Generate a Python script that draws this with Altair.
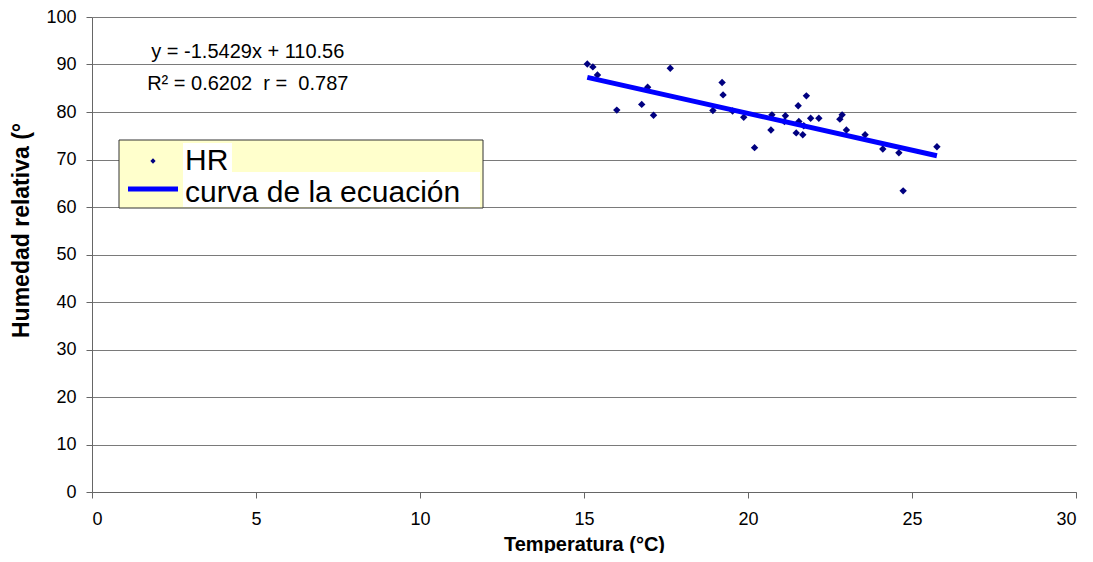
import altair as alt
import pandas as pd

# Data
temp = [15.10, 15.27, 15.41, 17.63, 16.00, 16.76, 17.12, 16.94, 19.21, 19.24,
        18.93, 19.53, 19.87, 20.20, 20.70, 20.73, 21.14, 21.11, 21.53, 21.78,
        21.55, 21.47, 21.67, 21.70, 21.91, 22.16, 22.87, 22.80, 23.00, 23.57,
        24.11, 24.60, 24.73, 25.76]
hr = [90.1, 89.5, 87.8, 89.2, 80.4, 81.6, 79.3, 85.2, 86.2, 83.6,
      80.3, 80.2, 78.9, 72.5, 76.2, 79.4, 79.2, 78.0, 81.3, 83.4,
      78.0, 75.6, 75.2, 77.1, 78.7, 78.7, 79.4, 78.5, 76.2, 75.2,
      72.2, 71.4, 63.4, 72.7]

line_x = [15.10, 25.76]
line_y = [87.3, 70.8]

eq_text = ["y = -1.5429x + 110.56", "R\u00b2 = 0.6202\u00a0\u00a0r =\u00a0\u00a00.787"]
eq_x = [4.75, 4.75]
eq_y = [92.7, 85.9]

legend_labels = ["HR", "curva de la ecuación"]

x_ticks = [0, 5, 10, 15, 20, 25, 30]
y_ticks = [0, 10, 20, 30, 40, 50, 60, 70, 80, 90, 100]

FONT = "Liberation Sans"

pts = pd.DataFrame({"t": temp, "h": hr})
ln = pd.DataFrame({"t": line_x, "h": line_y})
eq = pd.DataFrame({"t": eq_x, "h": eq_y, "txt": eq_text})
one = pd.DataFrame({"a": [0]})

xs = alt.Scale(domain=[0, 30], nice=False, zero=False)
ys = alt.Scale(domain=[0, 100], nice=False, zero=False)

xax = alt.Axis(values=x_ticks, grid=False, title="Temperatura (°C)",
               labelFontSize=18, titleFontSize=20, titleFontWeight="bold",
               labelFont=FONT, titleFont=FONT, labelColor="#000", titleColor="#000",
               domainColor="#666", tickColor="#666", tickSize=6, labelPadding=12,
               titleX=492, titleY=52, titleBaseline="middle", titleAnchor="middle")
yax = alt.Axis(values=y_ticks, grid=True, gridColor="#7a7a7a", title="Humedad relativa (°",
               labelFontSize=18, titleFontSize=23, titleFontWeight="bold",
               labelFont=FONT, titleFont=FONT, labelColor="#000", titleColor="#000",
               domainColor="#666", tickColor="#666", tickSize=6, labelPadding=10,
               titleX=-71, titleY=213, titleBaseline="middle", titleAlign="center")

points = alt.Chart(pts).mark_point(shape="diamond", filled=True, size=55, color="#000080", opacity=1).encode(
    x=alt.X("t:Q", scale=xs, axis=xax),
    y=alt.Y("h:Q", scale=ys, axis=yax),
)

line = alt.Chart(ln).mark_line(color="#0000FF", strokeWidth=5).encode(
    x=alt.X("t:Q", scale=xs),
    y=alt.Y("h:Q", scale=ys),
)

eqs = alt.Chart(eq).mark_text(fontSize=20, font=FONT, color="#000", align="center", baseline="middle").encode(
    x=alt.X("t:Q", scale=xs),
    y=alt.Y("h:Q", scale=ys),
    text="txt:N",
)

# legend (manual, drawn in pixel space)
leg_box = alt.Chart(one).mark_rect(fill="#FFFFCC", stroke="#333", strokeWidth=1).encode(
    x=alt.value(27), x2=alt.value(391), y=alt.value(123), y2=alt.value(191))
leg_w1 = alt.Chart(one).mark_rect(fill="#FFFFFF").encode(
    x=alt.value(91), x2=alt.value(140), y=alt.value(126), y2=alt.value(155))
leg_w2 = alt.Chart(one).mark_rect(fill="#FFFFFF").encode(
    x=alt.value(91), x2=alt.value(388), y=alt.value(155), y2=alt.value(190))
leg_pt = alt.Chart(one).mark_point(shape="diamond", filled=True, size=28, color="#000080", opacity=1).encode(
    x=alt.value(61), y=alt.value(144))
leg_ln = alt.Chart(one).mark_rule(color="#0000FF", strokeWidth=5).encode(
    x=alt.value(36), x2=alt.value(86), y=alt.value(172))
leg_t1 = alt.Chart(one).mark_text(fontSize=30, font=FONT, color="#000", align="left", baseline="alphabetic").encode(
    x=alt.value(93), y=alt.value(153), text=alt.value(legend_labels[0]))
leg_t2 = alt.Chart(one).mark_text(fontSize=30, font=FONT, color="#000", align="left", baseline="alphabetic").encode(
    x=alt.value(93), y=alt.value(185), text=alt.value(legend_labels[1]))

chart = alt.layer(points, line, eqs, leg_box, leg_w1, leg_w2, leg_pt, leg_ln, leg_t1, leg_t2).properties(
    width=984, height=475,
    autosize=alt.AutoSizeParams(type="none"),
    padding={"left": 84, "top": 9, "right": 9, "bottom": 61},
    background="white",
).configure_view(stroke=None)

chart.save("out.html", embed_options={"renderer": "svg", "actions": False})
